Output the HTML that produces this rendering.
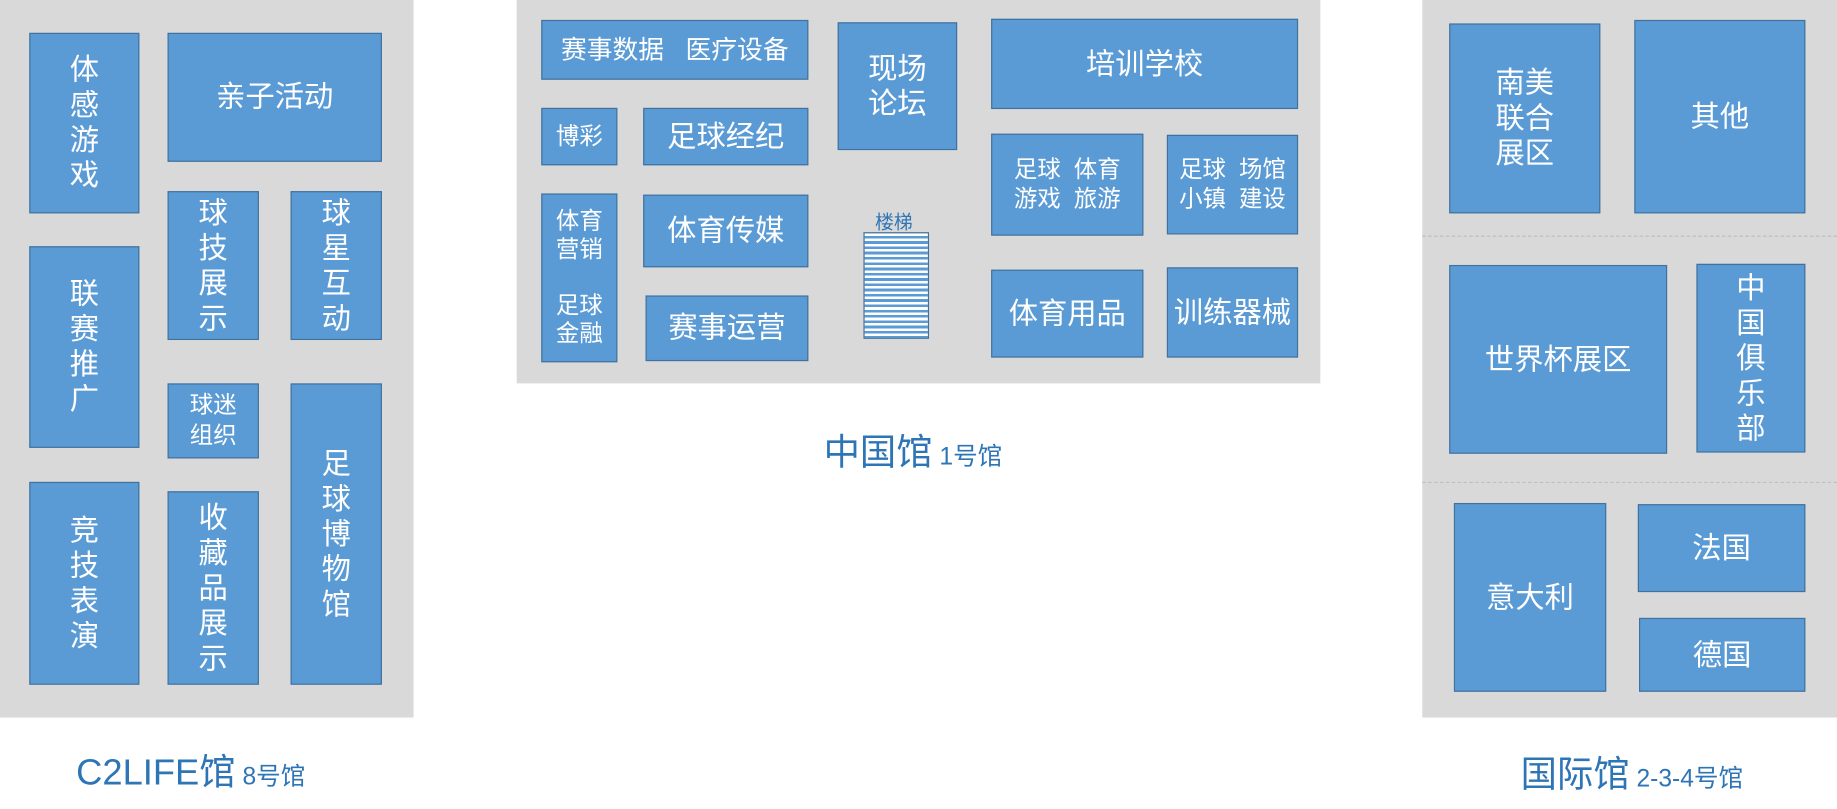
<!DOCTYPE html>
<html><head><meta charset="utf-8">
<style>
html,body{margin:0;padding:0;background:#fff;overflow:hidden}
#wrap{position:absolute;left:0;top:0;width:1568px;height:690px;transform-origin:0 0;transform:scale(1.17156,1.17246);font-family:"Liberation Sans","Noto Sans CJK SC",sans-serif}
.g{position:absolute;background:#d9d9d9}
.b{position:absolute;box-sizing:border-box;background:#5b9bd5;border:1.5px solid #41719c;color:#fff;display:flex;align-items:center;justify-content:center;text-align:center;font-size:25px;line-height:30px}
.t{position:absolute;color:#2e75b6;white-space:nowrap}
.dash{position:absolute;border-top:1.5px dashed #bfbfbf;height:0}
</style></head><body>
<div id="wrap">
<div class="g" style="left:0;top:0;width:353px;height:612px"></div>
<div class="g" style="left:441px;top:0;width:686px;height:327px"></div>
<div class="g" style="left:1214px;top:0;width:354px;height:612px"></div>
<div class="dash" style="left:1214px;top:201px;width:354px"></div>
<div class="dash" style="left:1214px;top:411px;width:354px"></div>

<!-- left -->
<div class="b" style="left:25px;top:28px;width:94px;height:154px">体<br>感<br>游<br>戏</div>
<div class="b" style="left:143px;top:28px;width:183px;height:110px">亲子活动</div>
<div class="b" style="left:143px;top:163px;width:78px;height:127px">球<br>技<br>展<br>示</div>
<div class="b" style="left:248px;top:163px;width:78px;height:127px">球<br>星<br>互<br>动</div>
<div class="b" style="left:25px;top:210px;width:94px;height:172px">联<br>赛<br>推<br>广</div>
<div class="b" style="left:143px;top:327px;width:78px;height:64px;font-size:20px;line-height:26px">球迷<br>组织</div>
<div class="b" style="left:248px;top:327px;width:78px;height:257px">足<br>球<br>博<br>物<br>馆</div>
<div class="b" style="left:25px;top:411px;width:94px;height:173px">竞<br>技<br>表<br>演</div>
<div class="b" style="left:143px;top:419px;width:78px;height:165px">收<br>藏<br>品<br>展<br>示</div>
<div class="t" style="left:65px;top:633px;font-size:31px">C2LIFE馆<span style="font-size:21px"> 8号馆</span></div>

<!-- center -->
<div class="b" style="left:462px;top:17px;width:228px;height:51px;font-size:22px">赛事数据&nbsp;&nbsp;&nbsp;医疗设备</div>
<div class="b" style="left:462px;top:92px;width:65px;height:49px;font-size:20px">博彩</div>
<div class="b" style="left:549px;top:92px;width:141px;height:49px">足球经纪</div>
<div class="b" style="left:462px;top:165px;width:65px;height:144px;font-size:20px;line-height:24px">体育<br>营销<br><br>足球<br>金融</div>
<div class="b" style="left:549px;top:166px;width:141px;height:62px">体育传媒</div>
<div class="b" style="left:551px;top:252px;width:139px;height:56px">赛事运营</div>
<div class="b" style="left:715px;top:19px;width:102px;height:109px;line-height:30px">现场<br>论坛</div>
<div class="t" style="left:747px;top:176px;font-size:16px">楼梯</div>
<div style="position:absolute;left:737px;top:198px;width:56px;height:91px;box-sizing:border-box;border:1.5px solid #41719c;background:repeating-linear-gradient(#fff 0 2.2px,#5b9bd5 2.2px 4.5px)"></div>
<div class="b" style="left:846px;top:16px;width:262px;height:77px">培训学校</div>
<div class="b" style="left:846px;top:114px;width:130px;height:87px;font-size:20px;line-height:25px">足球&nbsp;&nbsp;体育<br>游戏&nbsp;&nbsp;旅游</div>
<div class="b" style="left:996px;top:115px;width:112px;height:85px;font-size:20px;line-height:25px">足球&nbsp;&nbsp;场馆<br>小镇&nbsp;&nbsp;建设</div>
<div class="b" style="left:846px;top:230px;width:130px;height:75px">体育用品</div>
<div class="b" style="left:996px;top:228px;width:112px;height:77px">训练器械</div>
<div class="t" style="left:703px;top:360px;font-size:31px">中国馆<span style="font-size:21px"> 1号馆</span></div>

<!-- right -->
<div class="b" style="left:1237px;top:20px;width:129px;height:162px">南美<br>联合<br>展区</div>
<div class="b" style="left:1395px;top:17px;width:146px;height:165px">其他</div>
<div class="b" style="left:1237px;top:226px;width:186px;height:161px">世界杯展区</div>
<div class="b" style="left:1448px;top:225px;width:93px;height:161px">中<br>国<br>俱<br>乐<br>部</div>
<div class="b" style="left:1241px;top:429px;width:130px;height:161px">意大利</div>
<div class="b" style="left:1398px;top:430px;width:143px;height:75px">法国</div>
<div class="b" style="left:1399px;top:527px;width:142px;height:63px">德国</div>
<div class="t" style="left:1298px;top:635px;font-size:31px">国际馆<span style="font-size:21px"> 2-3-4号馆</span></div>
</div>
</body></html>
